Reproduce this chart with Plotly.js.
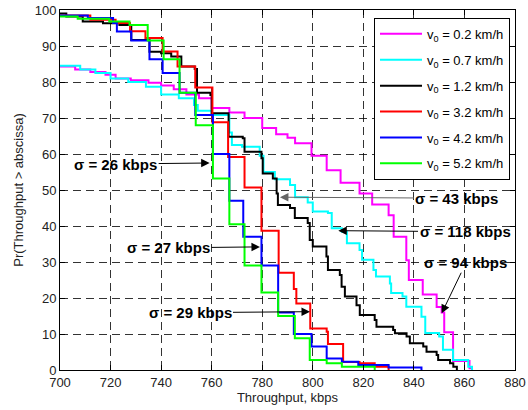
<!DOCTYPE html>
<html>
<head>
<meta charset="utf-8">
<script src="https://cdn.plot.ly/plotly-3.0.1.min.js"></script>
<style>html,body{margin:0;padding:0;background:#fff;}#chart{width:528px;height:410px;}</style>
</head>
<body>
<div id="chart"></div>
<script>
// Legend labels
var seriesNames = ['v<sub>0</sub> = 0.2 km/h', 'v<sub>0</sub> = 0.7 km/h', 'v<sub>0</sub> = 1.2 km/h',
                   'v<sub>0</sub> = 3.2 km/h', 'v<sub>0</sub> = 4.2 km/h', 'v<sub>0</sub> = 5.2 km/h'];
var seriesColors = ['#ff00ff', '#00ffff', '#000000', '#ff0000', '#0000ff', '#00ff00'];

// v0 = 0.2 km/h
var x02 = [700, 706, 712, 718, 722, 728, 735, 740, 745, 750, 755, 760, 767, 773, 780, 785.5, 790, 793, 799.5, 805.5, 811, 818.5, 823.5, 830, 832, 837, 838, 843.5, 849, 851, 852, 855.5, 862, 863];
var y02 = [84.3, 83.5, 82.8, 82, 81, 80.5, 79.8, 79, 78, 76.5, 75.5, 72.8, 71.5, 70, 67.2, 65.5, 64.5, 63, 59.5, 55.5, 52, 49, 46, 43, 37, 30.5, 25, 21, 17.5, 16, 10.5, 2.5, 0.5, 0];

// v0 = 0.7 km/h
var x07 = [700, 708, 714, 720, 727, 734, 740, 747, 753, 754.5, 760, 767, 768, 772, 779, 780.5, 785, 791, 793, 798, 800, 806, 807.5, 811.5, 813.5, 818.5, 819.5, 824, 825, 830.5, 831, 835.5, 837, 843, 844.5, 850, 851.5, 855.5, 861.5, 863];
var y07 = [84.5, 83.5, 82.5, 81, 80, 78.7, 76.5, 75.5, 73.6, 72, 70.8, 66, 62.5, 62, 59.5, 55, 53, 51.4, 48, 46.5, 44, 43.6, 39.4, 38.4, 35.2, 33.3, 30.6, 27.8, 26, 24, 21.4, 20.4, 17.6, 14.8, 10.3, 9.3, 5.6, 2.8, 0.9, 0];

// v0 = 1.2 km/h
var x12 = [700, 702.5, 709, 717, 723.5, 728.2, 735.4, 740, 744, 748, 753.3, 754.2, 759.5, 760, 766.7, 772.3, 773, 779.7, 780.2, 784.2, 785.7, 786.2, 791, 792.9, 798, 798.8, 800, 805.4, 806, 810.7, 811.4, 812.7, 817.3, 818.6, 824.5, 825.2, 831.8, 832.5, 837.1, 838.4, 843.7, 845, 849, 849.6, 854.3, 855.6, 857];
var y12 = [99, 98.2, 96.8, 96.3, 95.8, 91.7, 88.4, 88, 87.1, 84.3, 83.6, 77, 76.4, 71.3, 64.8, 64.4, 60.6, 58.8, 54.6, 53.2, 49, 45.8, 45, 42.2, 40.8, 36.1, 34.3, 31.5, 27.8, 26.4, 23.1, 20.4, 18, 15.3, 13.9, 12, 11.1, 10.2, 9.3, 7.4, 6.5, 5.1, 4.2, 2.8, 1.9, 0.9, 0];

// v0 = 3.2 km/h
var x32 = [700, 712, 722, 727.7, 733.8, 740.6, 746.5, 753.5, 760.3, 766.5, 773, 779.7, 786.5, 792.5, 793.5, 799, 805.5, 806, 812, 818.5, 824.5, 830];
var y32 = [98.5, 97.3, 96.4, 94.1, 92.2, 88.5, 84.3, 78.5, 68.8, 59.2, 50.7, 38.7, 27, 22.5, 18.5, 11.5, 10.6, 7.2, 2.2, 1.9, 0.9, 0];

// v0 = 4.2 km/h
var x42 = [700, 711, 721, 722.5, 728.2, 735.4, 740.6, 747.3, 753.5, 760.5, 767, 772.5, 779.7, 786.3, 792.5, 799.5, 805.5, 811.5, 818, 830, 843];
var y42 = [98.5, 97.8, 96.4, 94, 91.5, 86.3, 82.5, 77, 70.8, 60, 47, 37, 29, 16, 10, 6.5, 3.2, 2.3, 1.4, 0.7, 0];

// v0 = 5.2 km/h
var x52 = [700, 707, 719.5, 727.5, 734.7, 741, 747.3, 753.7, 760.5, 767, 773, 779.7, 786.3, 792.9, 798.8, 805.5, 811.5, 824.5];
var y52 = [98.2, 97.6, 96.8, 95.8, 91.5, 86.3, 77, 68, 53.2, 40.5, 29, 21.5, 15, 8.8, 2.8, 1.9, 0.9, 0];

var xs = [x02, x07, x12, x32, x42, x52];
var ys = [y02, y07, y12, y32, y42, y52];

// Annotation labels
var sigmaLabels = ['σ = 26 kbps', 'σ = 27 kbps', 'σ = 29 kbps', 'σ = 43 kbps', 'σ = 118 kbps', 'σ = 94 kbps'];
var sigmaX = [759.2, 779.1, 798.9, 787, 810.1, 851];
var sigmaY = [57.5, 34.2, 16.2, 48, 38.7, 15.75];

var traces = xs.map(function (x, i) {
  return {
    x: x, y: ys[i], type: 'scatter', mode: 'lines',
    line: {shape: 'hv', color: seriesColors[i], width: 2},
    name: seriesNames[i], legendgroup: 'g' + i
  };
});

var offsets = [[-94, 1], [-91.5, 1], [-120, 1], [177, 1], [126.7, 1], [24.3, -50.6]];
var arrowColors = ['#000', '#000', '#000', '#666', '#000', '#000'];
var annotations = sigmaLabels.map(function (t, i) {
  return {
    x: sigmaX[i], y: sigmaY[i], xref: 'x', yref: 'y',
    text: '<b>' + t + '</b>', showarrow: true,
    ax: offsets[i][0], ay: offsets[i][1],
    arrowhead: 2, arrowsize: 1.7, arrowwidth: 1, arrowcolor: arrowColors[i],
    standoff: 0, startstandoff: 0,
    font: {family: 'Liberation Sans, Arial, sans-serif', size: 15, color: '#000'}
  };
});

var axisCommon = {
  showline: true, linecolor: '#000', linewidth: 1, mirror: 'ticks',
  ticks: 'inside', ticklen: 5, tickcolor: '#000', tickwidth: 1,
  showgrid: true, gridcolor: '#000', gridwidth: 0.8, griddash: '8px,5px',
  zeroline: false,
  tickfont: {family: 'Liberation Sans, Arial, sans-serif', size: 13, color: '#222'}
};

var layout = {
  width: 528, height: 410,
  margin: {l: 60, r: 13, t: 10, b: 40, pad: 0},
  paper_bgcolor: '#fff', plot_bgcolor: '#fff',
  font: {family: 'Liberation Sans, Arial, sans-serif', size: 13, color: '#222'},
  xaxis: Object.assign({}, axisCommon, {
    range: [700, 880], tick0: 700, dtick: 20,
    title: {text: 'Throughput, kbps', font: {size: 13, color: '#222'}, standoff: 4}
  }),
  yaxis: Object.assign({}, axisCommon, {
    range: [0, 100], tick0: 0, dtick: 10,
    title: {text: 'Pr(Throughput > abscissa)', font: {size: 13, color: '#222'}, standoff: 8}
  }),
  showlegend: true,
  legend: {
    x: 0.989, xanchor: 'right', y: 0.978, yanchor: 'top',
    bgcolor: '#fff', bordercolor: '#000', borderwidth: 1,
    font: {family: 'Liberation Sans, Arial, sans-serif', size: 13, color: '#000'},
    tracegroupgap: 6, itemwidth: 42
  },
  annotations: annotations
};

Plotly.newPlot('chart', traces, layout, {staticPlot: true, displayModeBar: false});
</script>
</body>
</html>
